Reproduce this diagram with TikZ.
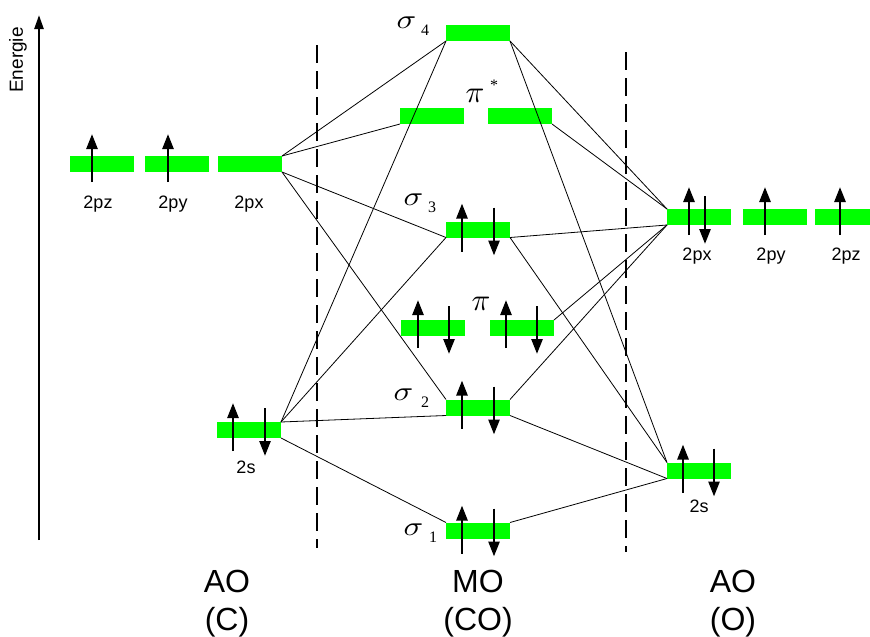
\documentclass[tikz,border=0pt]{standalone}
\usepackage{fontspec}
\setmainfont{Liberation Sans}
\newfontfamily\serifgr{Liberation Serif}
\usetikzlibrary{arrows.meta,calc}
\definecolor{lvlgreen}{HTML}{00FF00}
\newcommand\spinup[3]{\draw[spin] ($(#1.south west)+(#2,#3)$) -- ++(0,-48);}
\newcommand\spindown[3]{\draw[spin] ($(#1.north west)+(#2,-#3)$) -- ++(0,48);}
\begin{document}
\begin{tikzpicture}[x=1pt,y=-1pt,
  lvl/.style={fill=lvlgreen, draw=none, minimum width=64pt, minimum height=16pt, inner sep=0pt, outer sep=0pt},
  conn/.style={line width=0.8pt, black},
  spin/.style={line width=2.6pt, -{Triangle[length=15pt,width=11pt]}},
  sep/.style={line width=1.3pt, dash pattern=on 18pt off 8pt},
  orb/.style={font=\fontsize{18}{20}\selectfont, inner sep=0pt, anchor=base},
  big/.style={font=\fontsize{32}{34}\selectfont, inner sep=0pt, anchor=base},
  gr/.style={font=\fontsize{10}{12}\selectfont, inner sep=0pt, anchor=base west, scale=2.7},
  sig/.style={gr, xscale=1.2},
  pis/.style={gr, scale=1.15},
  sub/.style={font=\serifgr\fontsize{16}{18}\selectfont, inner sep=0pt, anchor=base west}]
\useasboundingbox (0,0) rectangle (870,637);

% energy axis
\coordinate (ebot) at (39,540);
\coordinate (etop) at (39,15);
\draw[line width=2.4pt, -{Triangle[length=14pt,width=9pt]}] (ebot) -- (etop);
\node[rotate=90, font=\fontsize{19}{20}\selectfont, inner sep=0pt] (elab) at (18,60) {Energie};

% dashed separators
\coordinate (d1a) at (317,45);  \coordinate (d1b) at (317,548);
\coordinate (d2a) at (626,52);  \coordinate (d2b) at (626,552);
\draw[sep] (d1a) -- (d1b);
\draw[sep] (d2a) -- (d2b);

% levels
\node[lvl] (Cpz) at (102,164) {};
\node[lvl] (Cpy) at (177,164) {};
\node[lvl] (Cpx) at (250,164) {};
\node[lvl] (C2s) at (249,430) {};
\node[lvl] (s4) at (478,33) {};
\node[lvl] (pisL) at (432,116) {};
\node[lvl] (pisR) at (520,116) {};
\node[lvl] (s3) at (478,229.5) {};
\node[lvl] (piL) at (433,328) {};
\node[lvl] (piR) at (522,328) {};
\node[lvl] (s2) at (478,407.5) {};
\node[lvl] (s1) at (478,530.5) {};
\node[lvl] (Opx) at (699,217) {};
\node[lvl] (Opy) at (775,217) {};
\node[lvl] (Opz) at (847,217) {};
\node[lvl] (O2s) at (699,470.5) {};

% connectors
\draw[conn] (Cpx.north east) -- (s4.south west);
\draw[conn] (Cpx.north east) -- (pisL.south west);
\draw[conn] (Cpx.south east) -- (s3.south west);
\draw[conn] (Cpx.south east) -- (s2.north west);
\draw[conn] (C2s.north east) -- (s4.south west);
\draw[conn] (C2s.north east) -- (s3.south west);
\draw[conn] (C2s.north east) -- (s2.south west);
\draw[conn] (C2s.south east) -- (s1.north west);
\draw[conn] (s4.south east) -- (Opx.north west);
\draw[conn] (s4.south east) -- (O2s.north west);
\draw[conn] (pisR.south east) -- (Opx.north west);
\draw[conn] (s3.south east) -- (Opx.south west);
\draw[conn] (s3.south east) -- (O2s.north west);
\draw[conn] (piR.north east) -- (Opx.south west);
\draw[conn] (s2.north east) -- (Opx.south west);
\draw[conn] (s2.south east) -- (O2s.south west);
\draw[conn] (s1.north east) -- (O2s.south west);

% electrons
\spinup{Cpz}{22}{10}
\spinup{Cpy}{23}{10}
\spinup{C2s}{16}{13} \spindown{C2s}{48}{14}
\spinup{s3}{16}{14} \spindown{s3}{48}{14}
\spinup{piL}{17}{12} \spindown{piL}{48}{14}
\spinup{piR}{16}{12} \spindown{piR}{47}{14}
\spinup{s2}{16}{13} \spindown{s2}{48}{13}
\spinup{s1}{16}{15} \spindown{s1}{48}{14}
\spinup{Opx}{22}{10} \spindown{Opx}{38}{13}
\spinup{Opy}{22}{10}
\spinup{Opz}{25}{10}
\spinup{O2s}{16}{14} \spindown{O2s}{47}{14}

% orbital labels
\node[orb] (lCpz) at (98,208) {2pz};
\node[orb] (lCpy) at (173,208) {2py};
\node[orb] (lCpx) at (249,208) {2px};
\node[orb] (lC2s) at (246,473) {2s};
\node[orb] (lOpx) at (697,260) {2px};
\node[orb] (lOpy) at (771,260) {2py};
\node[orb] (lOpz) at (846,260) {2pz};
\node[orb] (lO2s) at (699,512) {2s};

% MO labels
\node[sig] (g4) at (396,28) {$\sigma$};  \node[sub] (g4s) at (421,35) {4};
\node[sig] (g3) at (403,205) {$\sigma$}; \node[sub] (g3s) at (428,212) {3};
\node[sig] (g2) at (393,400) {$\sigma$}; \node[sub] (g2s) at (421,407) {2};
\node[sig] (g1) at (403,535) {$\sigma$}; \node[sub] (g1s) at (429,542) {1};
\node[pis] (gps) at (465,102) {$\pi$}; \node[sub] (gpss) at (490,90) {*};
\node[pis] (gp) at (471,310) {$\pi$};

% column labels
\node[big] (aoC) at (227,592) {AO};
\node[big] (aoC2) at (227,630) {(C)};
\node[big] (mo) at (478,592) {MO};
\node[big] (mo2) at (478,630) {(CO)};
\node[big] (aoO) at (733,592) {AO};
\node[big] (aoO2) at (733,630) {(O)};
\end{tikzpicture}
\end{document}
